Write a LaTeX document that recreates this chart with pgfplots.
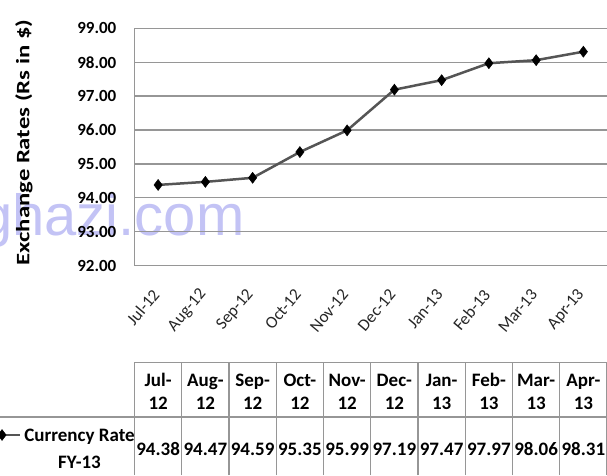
\documentclass[border=0pt]{standalone}
\usepackage{pgfplots}
\pgfplotsset{compat=1.18}
\usepackage{pgfplotstable}
\usepackage{fontspec}
\setmainfont{Carlito}
\newfontfamily\wmfont{Liberation Sans}
\definecolor{gridgray}{RGB}{150,150,150}
\definecolor{linegray}{RGB}{85,85,85}
\definecolor{wm}{RGB}{195,195,245}
\pgfkeys{/pgf/number format/assume math mode=true}

\pgfplotstableread{
x rate
0 94.38
1 94.47
2 94.59
3 95.35
4 95.99
5 97.19
6 97.47
7 97.97
8 98.06
9 98.31
}\ratetable

\begin{document}
\begin{tikzpicture}
\path[use as bounding box] (0,0) rectangle (607pt,475pt);
\clip (0,0) rectangle (607pt,475pt);
\node[font=\wmfont\fontsize{58}{60}\selectfont, text=wm, anchor=base west, inner sep=0pt] at (-20pt,240pt) {ghazi.com};

\begin{axis}[
  at={(134.5pt,209.4pt)}, anchor=south west,
  scale only axis, width=472.5pt, height=237.3pt,
  xmin=-0.5, xmax=9.5, ymin=92, ymax=99,
  xtick={0,...,9},
  xticklabels={Jul-12,Aug-12,Sep-12,Oct-12,Nov-12,Dec-12,Jan-13,Feb-13,Mar-13,Apr-13},
  ytick={92,...,99},
  yticklabel={\pgfmathprintnumber[fixed,fixed zerofill,precision=2]{\tick}},
  /pgf/number format/assume math mode=true,
  ymajorgrids, grid style={gridgray, line width=1.3pt},
  axis x line*=bottom, axis y line*=left,
  axis line style={gridgray, line width=1.3pt},
  major tick length=0pt,
  yticklabel style={font=\bfseries\fontsize{17}{18}\selectfont, inner sep=0pt, xshift=-18pt},
  xticklabel style={font=\fontsize{17}{18}\selectfont, text=black!85, inner sep=0pt, yshift=-26pt, xshift=-2pt, rotate=50, anchor=east},
  ylabel={\scalebox{1.3}[1]{Exchange Rates (Rs in \$)}},
  ylabel style={font=\bfseries\fontsize{19}{20}\selectfont, at={(axis description cs:-0.2339,0.5188)}, anchor=center, inner sep=0pt},
]
\addplot[linegray, line width=2.5pt, mark=diamond*, mark size=5.5pt, mark options={black, fill=black, line width=0.5pt}] table[x=x,y=rate]{\ratetable};
\end{axis}

\begin{axis}[
  at={(0pt,0pt)}, anchor=south west,
  scale only axis, width=607pt, height=113pt,
  xmin=-3.3466, xmax=9.5, ymin=0, ymax=113,
  axis line style={draw=none},
  major tick length=0pt, minor tick length=0pt,
  xtick={0,...,9},
  xticklabels={{Jul-\\12},{Aug-\\12},{Sep-\\12},{Oct-\\12},{Nov-\\12},{Dec-\\12},{Jan-\\13},{Feb-\\13},{Mar-\\13},{Apr-\\13}},
  xticklabel pos=right,
  xticklabel style={font=\bfseries\fontsize{19}{23}\selectfont, align=center, anchor=center, inner sep=0pt, yshift=-29.5pt},
  ytick=\empty,
  minor xtick={-0.5,0.5,...,9.5},
  xminorgrids, minor grid style={gridgray, line width=1.1pt},
]
\addplot[gridgray, line width=1.2pt] coordinates {(-0.5,113) (9.5,113)};
\addplot[gridgray, line width=1.2pt] coordinates {(-3.3466,58) (9.5,58)};
\addplot[draw=none, mark=none,
  nodes near coords={\pgfmathprintnumber[fixed,fixed zerofill,precision=2]{\pgfplotspointmeta}},
  point meta=\thisrow{rate},
  nodes near coords style={anchor=center, font=\bfseries\fontsize{19}{20}\selectfont, inner sep=0pt}]
  table[x=x, y expr=26]{\ratetable};
\addplot[linegray, line width=2.5pt] coordinates {(-3.40,40) (-2.923,40)};
\addplot[only marks, mark=diamond*, mark size=5.5pt, black] coordinates {(-3.304,40)};
\node[align=center, font=\bfseries\fontsize{19}{27}\selectfont, inner sep=0pt] at (axis cs:-1.664,26.5) {Currency Rate\\FY-13};
\end{axis}
\end{tikzpicture}
\end{document}
